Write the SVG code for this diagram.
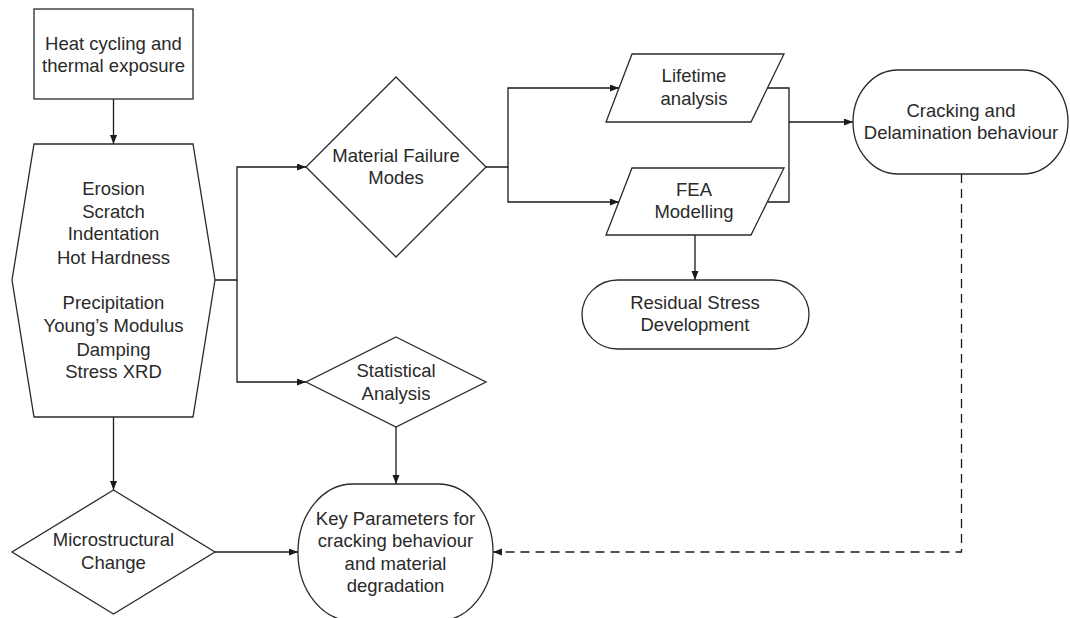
<svg xmlns="http://www.w3.org/2000/svg" width="1070" height="618" viewBox="0 0 1070 618">
<defs>
<marker id="arr" markerUnits="userSpaceOnUse" markerWidth="10" markerHeight="8" refX="9" refY="3.5" orient="auto">
<path d="M0,0 L9,3.5 L0,7 z" fill="#1a1a1a"/>
</marker>
<style>
.n{fill:#fff;stroke:#2a2a2a;stroke-width:1.3}
.t{font-family:"Liberation Sans",Arial,sans-serif;font-size:18.5px;fill:#2a2a2a;text-anchor:middle}
.c{fill:none;stroke:#1a1a1a;stroke-width:1.3}
.d{stroke-dasharray:9,6}
</style>
</defs>
<rect width="1070" height="618" fill="#fff"/>
<g id="connectors">
<path class="c" d="M113.5,99 V144" marker-end="url(#arr)"/>
<path class="c" d="M215,280 H237 V167 H306" marker-end="url(#arr)"/>
<path class="c" d="M237,280 V382 H306" marker-end="url(#arr)"/>
<path class="c" d="M486,167 H508 V88 H619" marker-end="url(#arr)"/>
<path class="c" d="M508,167 V202 H619" marker-end="url(#arr)"/>
<path class="c" d="M767.5,88 H789 V202 H767.5"/>
<path class="c" d="M789,122 H853" marker-end="url(#arr)"/>
<path class="c" d="M695,235 V280" marker-end="url(#arr)"/>
<path class="c" d="M396,427 V484" marker-end="url(#arr)"/>
<path class="c" d="M113.5,417 V490" marker-end="url(#arr)"/>
<path class="c" d="M215,552 H298" marker-end="url(#arr)"/>
<path class="c d" d="M961.5,174 V552 H493" marker-end="url(#arr)"/>
</g>
<g id="heat">
<rect class="n" x="34" y="9" width="159" height="90"/>
<text class="t" x="113.5" y="49.5">Heat cycling and</text>
<text class="t" x="113.5" y="71.5">thermal exposure</text>
</g>
<g id="tests">
<polygon class="n" points="34,144 193,144 215,280 193,417 34,417 12,280"/>
<text class="t" x="113.5" y="194.5">Erosion</text>
<text class="t" x="113.5" y="217.5">Scratch</text>
<text class="t" x="113.5" y="239.5">Indentation</text>
<text class="t" x="113.5" y="263.5">Hot Hardness</text>
<text class="t" x="113.5" y="308.5">Precipitation</text>
<text class="t" x="113.5" y="331.5">Young’s Modulus</text>
<text class="t" x="113.5" y="355.5">Damping</text>
<text class="t" x="113.5" y="377.5">Stress XRD</text>
</g>
<g id="failure">
<polygon class="n" points="396,77 486,167 396,257 306,167"/>
<text class="t" x="396" y="161.5">Material Failure</text>
<text class="t" x="396" y="183.5">Modes</text>
</g>
<g id="stat">
<polygon class="n" points="396,337 486,382 396,427 306,382"/>
<text class="t" x="396" y="376.5">Statistical</text>
<text class="t" x="396" y="399.5">Analysis</text>
</g>
<g id="lifetime">
<polygon class="n" points="632,54 784,54 751,122 606,122"/>
<text class="t" x="694" y="82">Lifetime</text>
<text class="t" x="694" y="104.5">analysis</text>
</g>
<g id="fea">
<polygon class="n" points="632,168 784,168 751,235 606,235"/>
<text class="t" x="694" y="195.5">FEA</text>
<text class="t" x="694" y="218">Modelling</text>
</g>
<g id="residual">
<rect class="n" x="582" y="280" width="227" height="69" rx="36" ry="34.5"/>
<text class="t" x="695" y="308.5">Residual Stress</text>
<text class="t" x="695" y="330.5">Development</text>
</g>
<g id="cracking">
<rect class="n" x="853" y="70" width="215" height="104" rx="45" ry="52"/>
<text class="t" x="961" y="116.5">Cracking and</text>
<text class="t" x="961" y="139">Delamination behaviour</text>
</g>
<g id="micro">
<polygon class="n" points="113.5,490 215,552 113.5,614 12,552"/>
<text class="t" x="113.5" y="545.5">Microstructural</text>
<text class="t" x="113.5" y="569">Change</text>
</g>
<g id="key">
<rect class="n" x="298" y="484" width="195" height="137" rx="55" ry="68"/>
<text class="t" x="395.5" y="524.5">Key Parameters for</text>
<text class="t" x="395.5" y="546.5">cracking behaviour</text>
<text class="t" x="395.5" y="569.5">and material</text>
<text class="t" x="395.5" y="592">degradation</text>
</g>
</svg>
